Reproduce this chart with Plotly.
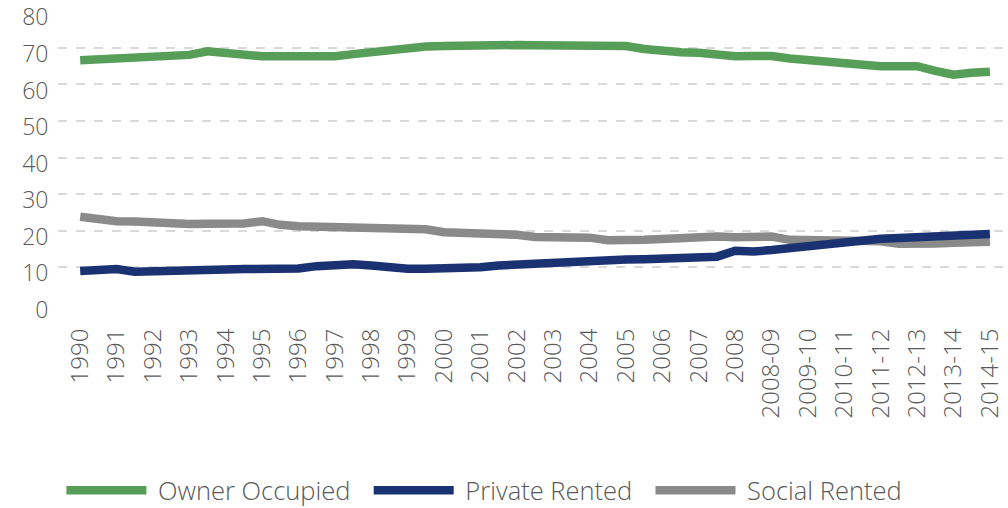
import plotly.graph_objects as go

# Period labels shown on the x axis (one per tick)
periods = ["1990", "1991", "1992", "1993", "1994", "1995", "1996", "1997", "1998",
           "1999", "2000", "2001", "2002", "2003", "2004", "2005", "2006", "2007",
           "2008", "2008-09", "2009-10", "2010-11", "2011-12", "2012-13", "2013-14",
           "2014-15"]

# Series values, read every half period (51 points from 1990 to 2014-15)
owner_occupied = [66.6, 66.8, 67.1, 67.5, 67.9, 68.1, 68.1, 69.1, 68.6, 68.0,
                  67.7, 67.7, 67.7, 67.7, 67.7, 68.3, 68.9, 69.2, 70.1, 70.4,
                  70.5, 70.7, 70.9, 71.0, 70.8, 70.7, 70.7, 70.7, 70.6, 70.5,
                  70.5, 69.7, 69.0, 68.8, 68.7, 68.1, 67.7, 67.8, 67.8, 67.1,
                  66.7, 66.2, 65.6, 65.3, 65.0, 65.0, 65.0, 63.7, 62.7, 63.2,
                  63.5]
private_rented = [9.0, 9.2, 9.5, 8.8, 9.0, 9.3, 9.3, 9.3, 9.4, 9.5,
                  9.5, 9.6, 9.65, 10.3, 10.8, 10.8, 10.5, 9.9, 9.6, 9.6,
                  9.6, 9.7, 10.0, 10.5, 10.8, 10.9, 11.1, 11.5, 11.7, 12.0,
                  12.1, 12.2, 12.4, 12.6, 12.7, 12.9, 14.5, 14.3, 14.7, 15.2,
                  15.8, 16.7, 17.2, 17.6, 17.8, 18.0, 18.2, 18.7, 19.1, 19.1,
                  19.1]
social_rented = [23.8, 23.1, 22.6, 22.5, 22.2, 21.9, 21.8, 21.9, 21.8, 22.0,
                 22.6, 21.6, 21.2, 21.1, 21.1, 21.3, 21.2, 20.8, 20.5, 20.4,
                 19.6, 19.5, 19.5, 19.5, 18.9, 18.3, 18.2, 18.2, 18.1, 17.4,
                 17.3, 17.5, 17.7, 18.1, 18.5, 18.4, 18.2, 18.2, 18.4, 17.5,
                 17.5, 17.5, 17.5, 17.3, 17.1, 16.4, 16.2, 16.5, 16.7, 16.9,
                 17.0]
series_names = ["Owner Occupied", "Private Rented", "Social Rented"]

x_pos = [i / 2 for i in range(len(owner_occupied))]
tick_pos = list(range(len(periods)))

GREEN = "#579e59"
NAVY = "#1b3272"
GREY = "#8a8a8a"
TEXT = "#595959"
FONT = "Open Sans"
NB = "\u00a0"


def legend_label(name):
    # non-breaking spaces give the legend the reference's spacing
    return NB + name + NB + NB


fig = go.Figure()
fig.add_trace(go.Scatter(x=x_pos, y=owner_occupied, name=legend_label(series_names[0]),
                         mode="lines", line=dict(color=GREEN, width=8.5), legendrank=1))
fig.add_trace(go.Scatter(x=x_pos, y=social_rented, name=legend_label(series_names[2]),
                         mode="lines", line=dict(color=GREY, width=8.5), legendrank=3))
fig.add_trace(go.Scatter(x=x_pos, y=private_rented, name=legend_label(series_names[1]),
                         mode="lines", line=dict(color=NAVY, width=8.5), legendrank=2))

fig.update_layout(
    width=1008, height=508,
    margin=dict(l=58, r=1, t=11, b=204, autoexpand=False),
    paper_bgcolor="white", plot_bgcolor="white",
    font=dict(family=FONT, size=24, color=TEXT, weight=300),
    showlegend=True,
    legend=dict(orientation="h", xref="container", yref="container",
                x=0.487, y=0.034, xanchor="center", yanchor="middle",
                font=dict(size=25.5, color=TEXT, family=FONT, weight=300),
                itemwidth=80, tracegroupgap=0, traceorder="normal"),
    xaxis=dict(range=[-0.61, 25.47], tickmode="array", tickvals=tick_pos,
               ticktext=periods, tickangle=-90, showgrid=False, zeroline=False,
               showline=False, ticks="outside", ticklen=14, tickcolor="rgba(0,0,0,0)",
               automargin=False, ticklabeloverflow="allow",
               tickfont=dict(size=24, color=TEXT, family=FONT, weight=300)),
    yaxis=dict(range=[-0.05, 80.1], tickmode="array", tickvals=[0, 10, 20, 30, 40, 50, 60, 70, 80],
               showgrid=True, gridcolor="#d9d9d9",
               griddash="dash", gridwidth=1.5, zeroline=False, showline=False,
               ticks="outside", ticklen=4, tickcolor="rgba(0,0,0,0)",
               automargin=False, ticklabeloverflow="allow", ticklabelshift=6,
               tickfont=dict(size=23, color=TEXT, family=FONT, weight=300)),
)

fig.write_html("out.html", config={"displayModeBar": False},
               post_script="document.body.style.margin='0';")
